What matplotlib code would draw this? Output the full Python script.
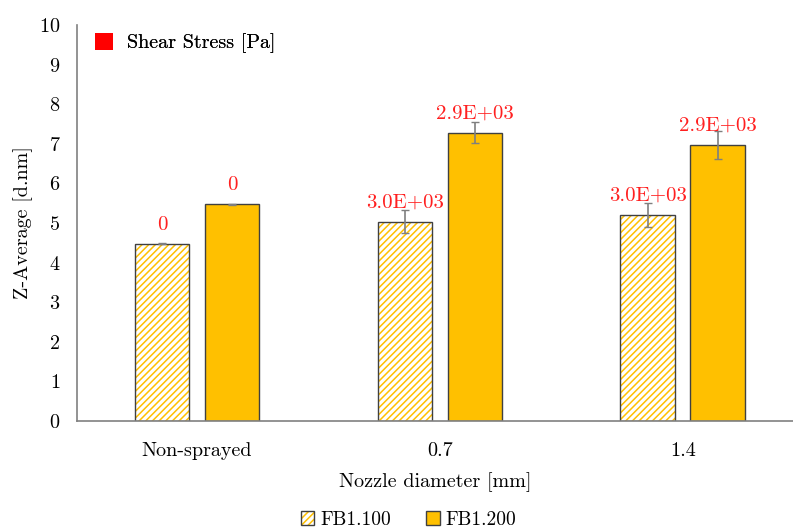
import numpy as np
import matplotlib
matplotlib.use('Agg')
import matplotlib.pyplot as plt
from matplotlib.patches import Patch
from matplotlib.legend_handler import HandlerTuple

plt.rcParams['font.family'] = ['cmr10', 'DejaVu Serif']
plt.rcParams['axes.unicode_minus'] = False
plt.rcParams['axes.formatter.use_mathtext'] = True
plt.rcParams['hatch.linewidth'] = 1.1

# data
categories = ['Non-sprayed', '0.7', '1.4']
fb100 = [4.48, 5.03, 5.20]
fb200 = [5.47, 7.28, 6.97]
fb100_err = [0.02, 0.29, 0.30]
fb200_err = [0.02, 0.27, 0.35]
fb100_stress = ['0', '3.0E+03', '3.0E+03']
fb200_stress = ['0', '2.9E+03', '2.9E+03']

gold = '#FFC000'
edge = '#404040'
errc = '#7f7f7f'
fs = 14.5

fig = plt.figure(figsize=(7.93, 5.28), dpi=100)
ax = fig.add_axes([77/793, 1-421/528, 1-77/793, (421-25)/528])

x = np.arange(len(categories))
w = 0.226
off = 0.144

# FB1.100: hatched (hatch in gold, outline dark)
ax.bar(x-off, fb100, w, color='white', edgecolor=gold, hatch='/////', linewidth=0)
ax.bar(x-off, fb100, w, color='none', edgecolor=edge, linewidth=1.0)
ax.errorbar(x-off, fb100, yerr=fb100_err, fmt='none', ecolor=errc, elinewidth=1.2, capsize=3)

# FB1.200: solid
ax.bar(x+off, fb200, w, color=gold, edgecolor=edge, linewidth=1.0)
ax.errorbar(x+off, fb200, yerr=fb200_err, fmt='none', ecolor=errc, elinewidth=1.2, capsize=3)

for xi, v, s in zip(x-off, fb100, fb100_stress):
    ax.annotate(s, (xi, v), xytext=(0, 19), textcoords='offset pixels',
                ha='center', va='center', color='#ff2020', fontsize=15)
for xi, v, s in zip(x+off, fb200, fb200_stress):
    ax.annotate(s, (xi, v), xytext=(0, 19), textcoords='offset pixels',
                ha='center', va='center', color='#ff2020', fontsize=15)

ax.set_xlim(-0.494, 2.453)
ax.set_ylim(0, 10)
ax.set_yticks(range(0, 11))
ax.set_xticks(x)
ax.set_xticklabels(categories)
ax.tick_params(axis='x', length=0, labelsize=fs, pad=15)
ax.tick_params(axis='y', length=0, labelsize=fs, pad=12)
ax.spines['top'].set_visible(False)
ax.spines['right'].set_visible(False)
for sp in ('left', 'bottom'):
    ax.spines[sp].set_color('#808080')
    ax.spines[sp].set_linewidth(1.2)

ax.set_xlabel('Nozzle diameter [mm]', fontsize=fs, labelpad=9)
ax.set_ylabel('Z-Average [d.nm]', fontsize=fs, labelpad=4)

# shear stress key
leg1 = ax.legend([Patch(facecolor='red', edgecolor='none')], ['Shear Stress [Pa]'],
                 loc='upper left', bbox_to_anchor=(0.0, 1.025), frameon=False,
                 fontsize=fs, handlelength=0.9, handleheight=0.9, handletextpad=0.7)
ax.add_artist(leg1)

# series legend at bottom
h100 = (Patch(facecolor='white', edgecolor=gold, hatch='/////', linewidth=0),
        Patch(facecolor='none', edgecolor=edge, linewidth=1.0))
h200 = Patch(facecolor=gold, edgecolor=edge, linewidth=1.0)
fig.legend([h100, h200], ['FB1.100', 'FB1.200'], loc='lower center',
           bbox_to_anchor=(0.515, -0.035), ncol=2, frameon=False, fontsize=14,
           handlelength=0.7, handleheight=0.7, handletextpad=0.3, columnspacing=1.8,
           handler_map={tuple: HandlerTuple(ndivide=1, pad=0)})

plt.savefig('out.png', dpi=100)
plt.close()
